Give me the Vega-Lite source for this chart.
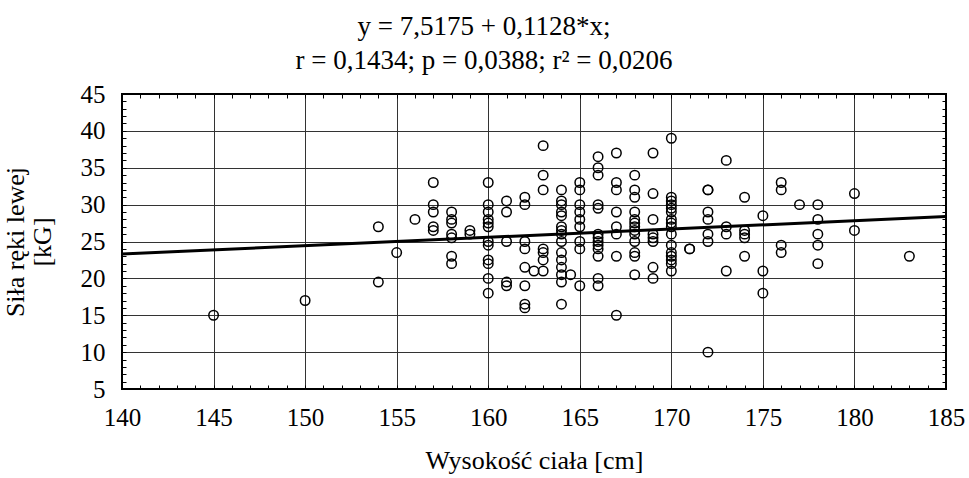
{
  "$schema": "https://vega.github.io/schema/vega-lite/v6.json",
  "width": 824,
  "height": 295,
  "autosize": {"type": "none"},
  "padding": {"left": 122, "top": 94, "right": 23, "bottom": 89},
  "background": "white",
  "config": {"view": {"stroke": "black", "strokeWidth": 2}, "font": "Liberation Serif"},
  "title": {
    "text": ["y = 7,5175 + 0,1128*x;", "r = 0,1434; p = 0,0388; r² = 0,0206"],
    "font": "Liberation Serif", "fontSize": 27, "fontWeight": "normal", "color": "black",
    "lineHeight": 34, "dx": -50, "offset": 7, "anchor": "middle", "frame": "group"
  },
  "datasets": {
    "pts": [
      {"h":145,"s":15},{"h":150,"s":17},{"h":154,"s":27},{"h":154,"s":19.5},{"h":155,"s":23.5},{"h":156,"s":28},
      {"h":157,"s":33},{"h":157,"s":30},{"h":157,"s":29},{"h":157,"s":27},{"h":157,"s":26.5},
      {"h":158,"s":29},{"h":158,"s":28},{"h":158,"s":27.5},{"h":158,"s":26},{"h":158,"s":25.5},{"h":158,"s":23},{"h":158,"s":22},
      {"h":159,"s":26.5},{"h":159,"s":26},
      {"h":160,"s":33},{"h":160,"s":30},{"h":160,"s":29},{"h":160,"s":28},{"h":160,"s":27.5},{"h":160,"s":27},{"h":160,"s":25},{"h":160,"s":24.5},{"h":160,"s":22.5},{"h":160,"s":22},{"h":160,"s":20},{"h":160,"s":18},
      {"h":161,"s":30.5},{"h":161,"s":29},{"h":161,"s":25},{"h":161,"s":19.5},{"h":161,"s":19},
      {"h":162,"s":31},{"h":162,"s":30},{"h":162,"s":25},{"h":162,"s":24},{"h":162,"s":21.5},{"h":162,"s":19},{"h":162,"s":16.5},{"h":162,"s":16},
      {"h":162.5,"s":21},
      {"h":163,"s":38},{"h":163,"s":34},{"h":163,"s":32},{"h":163,"s":24},{"h":163,"s":23.5},{"h":163,"s":22.5},{"h":163,"s":21},
      {"h":164,"s":32},{"h":164,"s":30.5},{"h":164,"s":30},{"h":164,"s":29},{"h":164,"s":28.5},{"h":164,"s":27},{"h":164,"s":26.5},{"h":164,"s":26},{"h":164,"s":25},{"h":164,"s":23.5},{"h":164,"s":22.5},{"h":164,"s":21.5},{"h":164,"s":20.5},{"h":164,"s":19.5},{"h":164,"s":16.5},
      {"h":164.5,"s":20.5},
      {"h":165,"s":33},{"h":165,"s":32},{"h":165,"s":30},{"h":165,"s":29},{"h":165,"s":28},{"h":165,"s":27},{"h":165,"s":25},{"h":165,"s":24},{"h":165,"s":19},
      {"h":166,"s":36.5},{"h":166,"s":35},{"h":166,"s":34},{"h":166,"s":30},{"h":166,"s":29.5},{"h":166,"s":26},{"h":166,"s":25.5},{"h":166,"s":25},{"h":166,"s":24.5},{"h":166,"s":24},{"h":166,"s":23},{"h":166,"s":20},{"h":166,"s":19},
      {"h":167,"s":37},{"h":167,"s":33},{"h":167,"s":32},{"h":167,"s":29},{"h":167,"s":27},{"h":167,"s":26},{"h":167,"s":23},{"h":167,"s":15},
      {"h":168,"s":34},{"h":168,"s":32},{"h":168,"s":31},{"h":168,"s":29},{"h":168,"s":28},{"h":168,"s":27.5},{"h":168,"s":27},{"h":168,"s":26.5},{"h":168,"s":26},{"h":168,"s":25},{"h":168,"s":23.5},{"h":168,"s":23},{"h":168,"s":20.5},
      {"h":169,"s":37},{"h":169,"s":31.5},{"h":169,"s":28},{"h":169,"s":26},{"h":169,"s":25.5},{"h":169,"s":25},{"h":169,"s":21.5},{"h":169,"s":20},
      {"h":170,"s":39},{"h":170,"s":31},{"h":170,"s":30.5},{"h":170,"s":30},{"h":170,"s":29.5},{"h":170,"s":29},{"h":170,"s":28},{"h":170,"s":27.5},{"h":170,"s":27},{"h":170,"s":26},{"h":170,"s":24.5},{"h":170,"s":23.5},{"h":170,"s":23},{"h":170,"s":22.5},{"h":170,"s":22},{"h":170,"s":21},
      {"h":171,"s":24},{"h":171,"s":24},
      {"h":172,"s":32},{"h":172,"s":32},{"h":172,"s":29},{"h":172,"s":28},{"h":172,"s":26},{"h":172,"s":25},{"h":172,"s":10},
      {"h":173,"s":36},{"h":173,"s":27},{"h":173,"s":26},{"h":173,"s":21},
      {"h":174,"s":31},{"h":174,"s":26.5},{"h":174,"s":26},{"h":174,"s":25.5},{"h":174,"s":23},
      {"h":175,"s":28.5},{"h":175,"s":21},{"h":175,"s":18},
      {"h":176,"s":33},{"h":176,"s":32},{"h":176,"s":24.5},{"h":176,"s":23.5},
      {"h":177,"s":30},
      {"h":178,"s":30},{"h":178,"s":28},{"h":178,"s":26},{"h":178,"s":24.5},{"h":178,"s":22},
      {"h":180,"s":31.5},{"h":180,"s":26.5},
      {"h":183,"s":23}
    ],
    "fit": [{"h":140,"s":23.3095},{"h":185,"s":28.3855}]
  },
  "layer": [
    {
      "data": {"name": "pts"},
      "mark": {"type": "point", "shape": "circle", "filled": false, "stroke": "black", "strokeWidth": 1.5, "size": 90, "opacity": 1},
      "encoding": {
        "x": {
          "field": "h", "type": "quantitative",
          "scale": {"domain": [140, 185], "nice": false, "zero": false},
          "axis": {
            "orient": "bottom",
            "values": [140,141,142,143,144,145,146,147,148,149,150,151,152,153,154,155,156,157,158,159,160,161,162,163,164,165,166,167,168,169,170,171,172,173,174,175,176,177,178,179,180,181,182,183,184,185],
            "labelExpr": "datum.value % 5 === 0 ? datum.label : ''",
            "grid": true, "gridColor": "#333", "gridWidth": 1,
            "gridOpacity": {"condition": {"test": "datum.value % 5 === 0 && datum.value > 140 && datum.value < 185", "value": 1}, "value": 0},
            "tickSize": -4, "tickColor": "black", "tickWidth": 1, "domain": false,
            "labelFont": "Liberation Serif", "labelFontSize": 25, "labelColor": "black", "labelPadding": 20,
            "labelFlush": false, "labelOverlap": false,
            "title": "Wysokość ciała [cm]", "titleFont": "Liberation Serif", "titleFontSize": 26,
            "titleFontWeight": "normal", "titleColor": "black", "titlePadding": 17
          }
        },
        "y": {
          "field": "s", "type": "quantitative",
          "scale": {"domain": [5, 45], "nice": false, "zero": false},
          "axis": {
            "orient": "left",
            "values": [5,6,7,8,9,10,11,12,13,14,15,16,17,18,19,20,21,22,23,24,25,26,27,28,29,30,31,32,33,34,35,36,37,38,39,40,41,42,43,44,45],
            "labelExpr": "datum.value % 5 === 0 ? datum.label : ''",
            "grid": true, "gridColor": "#333", "gridWidth": 1,
            "gridOpacity": {"condition": {"test": "datum.value % 5 === 0 && datum.value > 5 && datum.value < 45", "value": 1}, "value": 0},
            "tickSize": -4, "tickColor": "black", "tickWidth": 1, "domain": false,
            "labelFont": "Liberation Serif", "labelFontSize": 25, "labelColor": "black", "labelPadding": 21,
            "labelFlush": false, "labelOverlap": false,
            "title": ["Siła ręki lewej", "[kG]"], "titleFont": "Liberation Serif", "titleFontSize": 26,
            "titleFontWeight": "normal", "titleColor": "black", "titlePadding": 25, "titleLineHeight": 27
          }
        }
      }
    },
    {
      "data": {"name": "fit"},
      "mark": {"type": "line", "color": "black", "strokeWidth": 3},
      "encoding": {
        "x": {
          "field": "h", "type": "quantitative",
          "axis": {
            "orient": "top",
            "values": [140,141,142,143,144,145,146,147,148,149,150,151,152,153,154,155,156,157,158,159,160,161,162,163,164,165,166,167,168,169,170,171,172,173,174,175,176,177,178,179,180,181,182,183,184,185],
            "labels": false, "grid": false, "domain": false,
            "tickSize": -4, "tickColor": "black", "tickWidth": 1, "title": null
          }
        },
        "y": {
          "field": "s", "type": "quantitative",
          "axis": {
            "orient": "right",
            "values": [5,6,7,8,9,10,11,12,13,14,15,16,17,18,19,20,21,22,23,24,25,26,27,28,29,30,31,32,33,34,35,36,37,38,39,40,41,42,43,44,45],
            "labels": false, "grid": false, "domain": false,
            "tickSize": -4, "tickColor": "black", "tickWidth": 1, "title": null
          }
        }
      }
    }
  ],
  "resolve": {"axis": {"x": "independent", "y": "independent"}}
}
